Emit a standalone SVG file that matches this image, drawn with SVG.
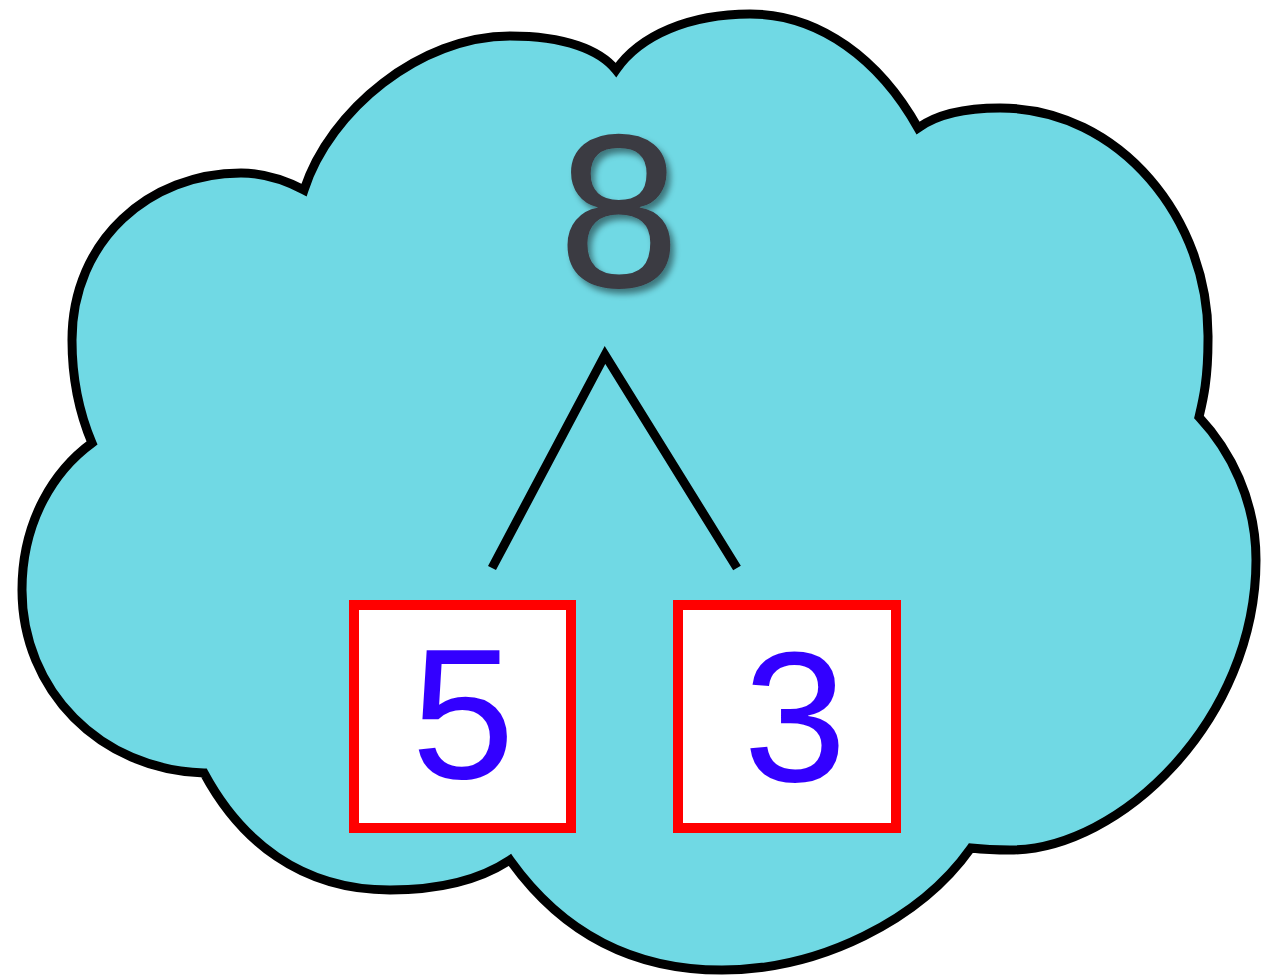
<svg xmlns="http://www.w3.org/2000/svg" width="1281" height="978" viewBox="0 0 1281 978">
<style>
.cloud{fill:#70d9e4;stroke:#000;stroke-width:9;stroke-linejoin:miter}
.box{fill:#fff;stroke:#ff0000;stroke-width:10}
.num{font-family:"Liberation Sans",Arial,sans-serif;text-anchor:middle}
.part{fill:#3300ff;font-size:186px}
.whole{fill:#3a3a42;font-size:219px}
.conn{fill:none;stroke:#000;stroke-width:9;stroke-linejoin:miter}
</style>
<defs>
<filter id="shadow" x="-20%" y="-20%" width="150%" height="150%">
<feDropShadow dx="4" dy="5" stdDeviation="3" flood-color="#000" flood-opacity="0.45"/>
</filter>
</defs>
<rect width="1281" height="978" fill="#fff"/>
<g id="cloud">
<path class="cloud" d="M304,190 C330,110 420,36 510,36 C565,36 600,50 616,70 C640,35 690,14 750,14 C820,14 880,60 918,128 C940,112 970,108 1000,108 C1120,108 1210,220 1208,340 C1208,380 1203,400 1199,417 C1230,450 1256,500 1256,560 C1256,720 1120,850 1010,850 C995,850 980,849 971,848 C920,920 820,970 722,970 C630,970 560,930 510,860 C480,880 440,890 390,890 C300,890 240,840 204,773 C100,770 22,690 22,590 C22,520 55,470 92,443 C78,410 72,375 72,340 C72,240 150,173 241,173 C265,173 285,180 304,190 Z"/>
</g>
<g id="whole">
<text class="num whole" x="619" y="287" filter="url(#shadow)">8</text>
</g>
<g id="connectors">
<polyline class="conn" points="492,568 605,355 737,568"/>
</g>
<g id="part-5">
<rect class="box" x="354" y="605" width="217" height="223"/>
<text class="num part" x="463" y="778">5</text>
</g>
<g id="part-3">
<rect class="box" x="678" y="605" width="218" height="223"/>
<text class="num part" x="795" y="781">3</text>
</g>
</svg>
